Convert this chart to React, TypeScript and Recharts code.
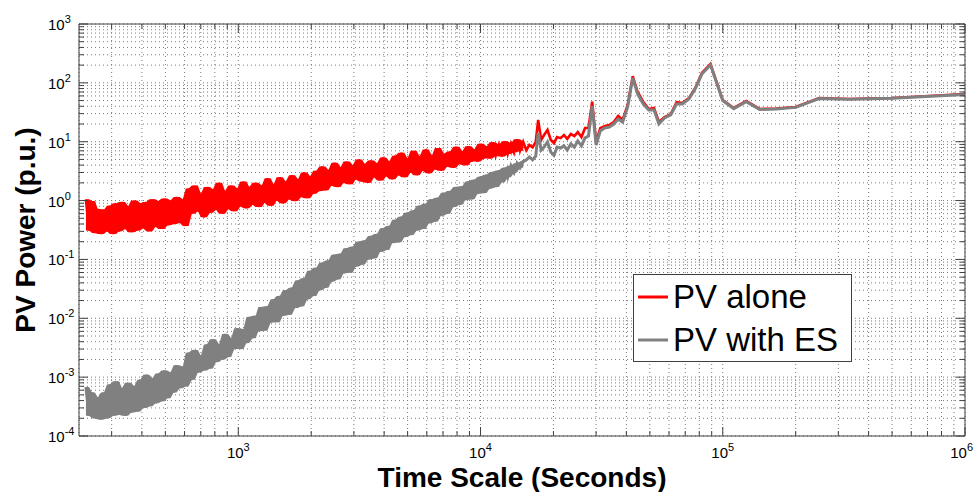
import React from "react";
import { ComposedChart, Line, Area, XAxis, YAxis, CartesianGrid, Legend } from "recharts";

const FONT = '"Liberation Sans", Arial, Helvetica, sans-serif';
const AXIS_COLOR = "#404040";
const GRID_COLOR = "#7a7a7a";

// time scale in seconds (dense at short time scales, sparse at long ones)
const timeScale = [
  235, 242, 249, 256, 263, 271, 279, 287, 295, 304,
  313, 322, 331, 341, 351, 361, 372, 383, 394, 405,
  417, 429, 442, 455, 468, 482, 496, 510, 525, 541,
  556, 573, 590, 607, 624, 643, 661, 681, 701, 721,
  742, 764, 786, 809, 833, 857, 882, 908, 935, 962,
  990, 1020, 1050, 1080, 1110, 1145, 1180, 1210, 1250, 1285,
  1320, 1360, 1400, 1440, 1485, 1525, 1570, 1620, 1665, 1715,
  1765, 1815, 1870, 1925, 1980, 2040, 2100, 2160, 2220, 2290,
  2355, 2425, 2495, 2570, 2645, 2720, 2800, 2885, 2970, 3055,
  3145, 3240, 3330, 3430, 3530, 3635, 3740, 3850, 3965, 4080,
  4200, 4320, 4450, 4580, 4715, 4850, 4995, 5140, 5290, 5445,
  5605, 5770, 5940, 6115, 6295, 6480, 6670, 6865, 7065, 7275,
  7490, 7710, 7935, 8170, 8410, 8655, 8910, 9170, 9440, 9720,
  10000, 10300, 10600, 10900, 11200, 11550, 11900, 12250, 12600, 12950,
  13350, 13750, 14150, 14550, 15000,
  15450, 15900, 16400, 16900, 17300, 17800, 18300, 18900, 19500, 20100,
  20700, 21400, 22100, 22800, 23600, 24400, 25200, 26100, 27000, 27900,
  28900, 30000, 31200, 32500, 34000, 35500, 37000, 38600, 40500, 42500,
  44500, 47000, 49500, 52000, 54500, 57500, 61000, 64500, 68000, 72500,
  77000, 82000, 89000, 100000, 111000, 125000, 142000, 166000, 200000, 250000,
  333000, 500000, 1000000,
];

const pvAlone = [
  1.05, 0.31, 0.98, 0.28, 0.72, 0.27, 0.7, 0.3, 0.82, 0.27,
  0.9, 0.3, 0.95, 0.33, 0.8, 0.29, 1.0, 0.31, 0.9, 0.34,
  0.95, 0.3, 1.05, 0.36, 0.98, 0.33, 1.08, 0.38, 1.0, 0.4,
  1.15, 0.42, 1.05, 0.37, 1.6, 0.6, 1.8, 0.66, 1.3, 0.52,
  1.7, 0.62, 1.55, 0.7, 2.0, 0.6, 1.45, 0.72, 1.8, 0.66,
  1.6, 0.8, 2.1, 0.74, 1.7, 0.85, 2.0, 0.78, 1.8, 0.92,
  2.4, 0.82, 1.9, 1.0, 2.5, 0.9, 2.1, 1.05, 2.7, 0.98,
  2.3, 1.15, 3.0, 1.1, 2.6, 1.3, 3.2, 1.45, 3.8, 1.5,
  3.3, 1.8, 4.4, 1.7, 3.7, 2.0, 4.6, 1.9, 4.0, 2.3,
  5.0, 2.1, 4.2, 2.0, 4.8, 2.5, 4.3, 2.2, 5.4, 2.6,
  4.6, 2.3, 5.8, 2.7, 6.5, 2.5, 5.2, 3.0, 7.0, 2.7,
  5.6, 3.2, 7.4, 2.9, 5.8, 3.4, 7.8, 3.2, 6.2, 3.8,
  6.8, 3.6, 8.2, 4.2, 6.9, 4.0, 8.4, 4.6, 7.4, 4.6,
  9.2, 5.2, 8.3, 5.2, 9.8, 5.8, 8.8, 5.6, 10.2, 6.2,
  9.3, 6.6, 11.0, 7.0, 10.0,
  7.2, 8.8, 8.0, 9.9, 23.4, 10.7, 13.0, 15.8, 10.7, 9.5,
  12.0, 11.5, 13.0, 11.2, 13.5, 12.5, 14.6, 12.0, 17.1, 17.1,
  48, 9.9, 17, 18.4, 19.2, 21.6, 27.4, 23.4, 42, 130,
  70, 47.3, 36, 37.4, 21.6, 26.3, 29.5, 47, 45.5, 55,
  82, 147, 209, 51, 37.4, 49, 36, 36.7, 39, 55.4,
  53.3, 55.4, 64.7,
];

const pvWithEs = [
  6.8e-4, 2.2e-4, 5.5e-4, 2.0e-4, 4.5e-4, 1.9e-4, 5.5e-4, 2.0e-4, 7.5e-4, 2.2e-4,
  8.5e-4, 2.3e-4, 6.5e-4, 2.2e-4, 8.0e-4, 2.5e-4, 7.0e-4, 2.6e-4, 9.0e-4, 3.0e-4,
  1.1e-3, 3.2e-4, 9.5e-4, 3.6e-4, 1.15e-3, 3.9e-4, 1.3e-3, 4.4e-4, 1.2e-3, 5.5e-4,
  1.6e-3, 6.5e-4, 1.5e-3, 7.0e-4, 2.6e-3, 9.0e-4, 2.9e-3, 1.2e-3, 2.3e-3, 1.3e-3,
  3.6e-3, 1.4e-3, 4.4e-3, 1.8e-3, 3.6e-3, 2.0e-3, 5.4e-3, 2.2e-3, 4.6e-3, 3.0e-3,
  6.8e-3, 3.0e-3, 6.5e-3, 3.8e-3, 1.05e-2, 4.6e-3, 1.1e-2, 6.0e-3, 1.55e-2, 6.2e-3,
  1.6e-2, 8.5e-3, 2.1e-2, 8.6e-3, 2.4e-2, 1.1e-2, 3.0e-2, 1.15e-2, 3.3e-2, 1.5e-2,
  4.4e-2, 1.6e-2, 4.8e-2, 2.1e-2, 6.4e-2, 2.4e-2, 7.2e-2, 3.0e-2, 8.8e-2, 3.3e-2,
  9.6e-2, 4.2e-2, 0.12, 4.6e-2, 0.125, 5.8e-2, 0.155, 6.0e-2, 0.165, 7.6e-2,
  0.2, 8.2e-2, 0.21, 0.1, 0.25, 0.105, 0.27, 0.135, 0.34, 0.145,
  0.37, 0.19, 0.47, 0.195, 0.53, 0.24, 0.62, 0.26, 0.68, 0.31,
  0.82, 0.33, 0.88, 0.41, 1.05, 0.44, 1.12, 0.55, 1.35, 0.6,
  1.45, 0.78, 1.7, 0.85, 1.75, 1.02, 2.1, 1.05, 2.25, 1.3,
  2.55, 1.35, 2.75, 1.6, 3.05, 1.7, 3.25, 2.05, 3.6, 2.5,
  3.9, 3.0, 4.3, 3.6, 4.6,
  4.9, 5.5, 4.9, 5.7, 14.1, 7.2, 8.1, 9.9, 6.7, 5.9,
  8.1, 7.8, 8.5, 7.2, 9.2, 8.1, 10.3, 8.5, 11.6, 12.5,
  40.5, 8.8, 15.2, 17.1, 17.8, 20, 24.3, 21.6, 39, 121,
  64.7, 43.7, 34.6, 34.6, 20, 25.3, 28.5, 43.7, 43.7, 53.3,
  79, 141, 201, 50, 36.5, 48, 35.3, 36, 38.3, 54,
  52.5, 54.5, 63.5,
];

const xTicks = [
  300, 400, 500, 600, 700, 800, 900,
  1000, 2000, 3000, 4000, 5000, 6000, 7000, 8000, 9000,
  10000, 20000, 30000, 40000, 50000, 60000, 70000, 80000, 90000,
  100000, 200000, 300000, 400000, 500000, 600000, 700000, 800000, 900000,
  1000000,
];

const yTicks = [
  0.0001, 0.0002, 0.0003, 0.0004, 0.0005, 0.0006, 0.0007, 0.0008, 0.0009,
  0.001, 0.002, 0.003, 0.004, 0.005, 0.006, 0.007, 0.008, 0.009,
  0.01, 0.02, 0.03, 0.04, 0.05, 0.06, 0.07, 0.08, 0.09,
  0.1, 0.2, 0.3, 0.4, 0.5, 0.6, 0.7, 0.8, 0.9,
  1, 2, 3, 4, 5, 6, 7, 8, 9,
  10, 20, 30, 40, 50, 60, 70, 80, 90,
  100, 200, 300, 400, 500, 600, 700, 800, 900,
  1000,
];

// the dense (noisy) part of the record is drawn as a filled band so it reads solid
const DENSE_LIMIT = 15000;
const bandOf = (arr: number[]) =>
  arr.map((v, i) => {
    if (timeScale[i] > DENSE_LIMIT) return null;
    const near = [arr[i - 1] ?? v, v, arr[i + 1] ?? v];
    return [Math.min(...near), Math.max(...near)];
  });

const aloneBand = bandOf(pvAlone);
const withEsBand = bandOf(pvWithEs);

const data = timeScale.map((t, i) => ({
  t,
  alone: pvAlone[i],
  withEs: pvWithEs[i],
  aloneBand: aloneBand[i],
  withEsBand: withEsBand[i],
}));

const isDecade = (v: number) => Math.abs(Math.log10(v) - Math.round(Math.log10(v))) < 1e-6;
const expOf = (v: number) => Math.round(Math.log10(v));
const X_MAX = 1000000;

function BottomTick(props: any) {
  const { x, y, payload } = props;
  const major = isDecade(payload.value);
  // the last label sits on the right border, keep it inside the picture
  const atEnd = payload.value >= X_MAX;
  return (
    <g>
      <line x1={x} x2={x} y1={y} y2={y - (major ? 9 : 5)} stroke={AXIS_COLOR} />
      {major && (
        <text x={atEnd ? x + 8 : x} y={y + 22} textAnchor={atEnd ? "end" : "middle"} fontFamily={FONT} fontSize={15} fill="#000">
          10<tspan dy={-7} fontSize={11}>{expOf(payload.value)}</tspan>
        </text>
      )}
    </g>
  );
}

function TopTick(props: any) {
  const { x, y, payload } = props;
  const major = isDecade(payload.value);
  return <line x1={x} x2={x} y1={y} y2={y + (major ? 9 : 5)} stroke={AXIS_COLOR} />;
}

function LeftTick(props: any) {
  const { x, y, payload } = props;
  const major = isDecade(payload.value);
  return (
    <g>
      <line x1={x} x2={x + (major ? 9 : 5)} y1={y} y2={y} stroke={AXIS_COLOR} />
      {major && (
        <text x={x - 31} y={y + 6} textAnchor="start" fontFamily={FONT} fontSize={15} fill="#000">
          10<tspan dy={-7} fontSize={11}>{expOf(payload.value)}</tspan>
        </text>
      )}
    </g>
  );
}

function RightTick(props: any) {
  const { x, y, payload } = props;
  const major = isDecade(payload.value);
  return <line x1={x} x2={x - (major ? 9 : 5)} y1={y} y2={y} stroke={AXIS_COLOR} />;
}

function XTitle(props: any) {
  const vb = props.viewBox;
  return (
    <text x={vb.x + vb.width / 2} y={vb.y + 51} textAnchor="middle" fontFamily={FONT} fontWeight="bold" fontSize={28} fill="#000">
      Time Scale (Seconds)
    </text>
  );
}

function YTitle(props: any) {
  const vb = props.viewBox;
  const cx = vb.x + 35;
  const cy = vb.y + vb.height / 2;
  return (
    <text x={cx} y={cy} transform={`rotate(-90 ${cx} ${cy})`} textAnchor="middle" fontFamily={FONT} fontWeight="bold" fontSize={28} fill="#000">
      PV Power (p.u.)
    </text>
  );
}

function LegendBox(props: any) {
  const items = (props.payload || []).filter((it: any) => it.type !== "none");
  return (
    <div style={{ width: 217, height: 86, background: "#fff", border: `1px solid ${AXIS_COLOR}`, fontFamily: FONT, fontSize: 33, color: "#000" }}>
      {items.map((it: any) => (
        <div key={it.value} style={{ display: "flex", alignItems: "center", height: 43 }}>
          <svg width={39} height={10} style={{ flex: "none" }}>
            <line x1={4} x2={34} y1={5} y2={5} stroke={it.color} strokeWidth={3} />
          </svg>
          <span style={{ lineHeight: "43px", whiteSpace: "nowrap" }}>{it.value}</span>
        </div>
      ))}
    </div>
  );
}

export default function App() {
  return (
    <div style={{ width: 974, height: 492, background: "#fff" }}>
      <style>{"body{margin:0}"}</style>
      <ComposedChart width={974} height={492} data={data} margin={{ top: 0, right: 0, bottom: 0, left: 0 }}>
        <CartesianGrid stroke={GRID_COLOR} strokeDasharray="1 3" />
        <XAxis
          dataKey="t" type="number" scale="log" domain={[220, X_MAX]} allowDataOverflow
          ticks={xTicks} interval={0} height={56} tickSize={0} tickMargin={0}
          tickLine={false} axisLine={{ stroke: AXIS_COLOR }} tick={<BottomTick />}
          label={<XTitle />}
        />
        <XAxis
          xAxisId="top" orientation="top" dataKey="t" type="number" scale="log" domain={[220, X_MAX]} allowDataOverflow
          ticks={xTicks} interval={0} height={24} tickSize={0} tickMargin={0}
          tickLine={false} axisLine={{ stroke: AXIS_COLOR }} tick={<TopTick />}
        />
        <YAxis
          type="number" scale="log" domain={[0.0001, 1000]} allowDataOverflow
          ticks={yTicks} interval={0} width={79} tickSize={0} tickMargin={0}
          tickLine={false} axisLine={{ stroke: AXIS_COLOR }} tick={<LeftTick />}
          label={<YTitle />}
        />
        <YAxis
          yAxisId="right" orientation="right" type="number" scale="log" domain={[0.0001, 1000]} allowDataOverflow
          ticks={yTicks} interval={0} width={9} tickSize={0} tickMargin={0}
          tickLine={false} axisLine={{ stroke: AXIS_COLOR }} tick={<RightTick />}
        />
        <Area dataKey="aloneBand" stroke="none" fill="#ff0000" fillOpacity={1} legendType="none" isAnimationActive={false} />
        <Line dataKey="alone" name="PV alone" stroke="#ff0000" strokeWidth={2.6} dot={false} isAnimationActive={false} />
        <Area dataKey="withEsBand" stroke="none" fill="#808080" fillOpacity={1} legendType="none" isAnimationActive={false} />
        <Line dataKey="withEs" name="PV with ES" stroke="#808080" strokeWidth={3} dot={false} isAnimationActive={false} />
        <Legend
          layout="vertical" align="center" verticalAlign="middle"
          wrapperStyle={{ left: 633, top: 274 }}
          content={<LegendBox />}
        />
      </ComposedChart>
    </div>
  );
}
